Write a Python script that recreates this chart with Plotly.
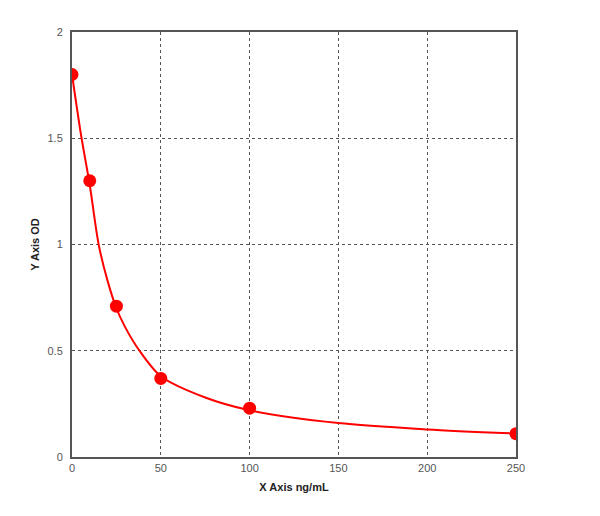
import plotly.graph_objects as go

# Standard points (concentration ng/mL, OD)
conc = [0, 10, 25, 50, 100, 250]
od = [1.80, 1.30, 0.71, 0.37, 0.23, 0.11]

# Fitted curve
curve_x = [0, 5, 10, 15, 20, 25, 30, 38, 50, 75, 100, 150, 200, 250]
curve_y = [1.80, 1.52, 1.28, 1.00, 0.83, 0.70, 0.61, 0.50, 0.38, 0.28, 0.22, 0.16, 0.13, 0.11]

x_ticks = [0, 50, 100, 150, 200, 250]
y_ticks = [0, 0.5, 1, 1.5, 2]

fig = go.Figure()
fig.add_trace(go.Scatter(x=curve_x, y=curve_y, mode="lines",
                         line=dict(color="#ff0000", width=2, shape="spline", smoothing=0.8),
                         hoverinfo="skip", showlegend=False))
fig.add_trace(go.Scatter(x=conc, y=od, mode="markers",
                         marker=dict(color="#ff0000", size=13),
                         showlegend=False))

axis_common = dict(showline=True, linecolor="#555555", linewidth=2, mirror=True,
                   showgrid=True, gridcolor="#555555", griddash="dot", gridwidth=1,
                   zeroline=False, ticks="", tickfont=dict(family="Liberation Sans, Arial", size=11, color="#555555"))

fig.update_xaxes(range=[0, 250], tickvals=x_ticks, ticktext=[str(v) for v in x_ticks],
                 title=dict(text="<b>X Axis ng/mL</b>", font=dict(family="Liberation Sans, Arial", size=11, color="#222222"), standoff=10),
                 **axis_common)
fig.update_yaxes(range=[0, 2], tickvals=y_ticks, ticktext=[str(v) for v in y_ticks],
                 ticklabelstandoff=5,
                 title=dict(text="<b>Y Axis OD</b>", font=dict(family="Liberation Sans, Arial", size=11, color="#222222"), standoff=6),
                 **axis_common)

fig.update_layout(width=600, height=516, margin=dict(l=64, r=92, t=24, b=67),
                  paper_bgcolor="white", plot_bgcolor="white")

fig.write_html("out.html")
